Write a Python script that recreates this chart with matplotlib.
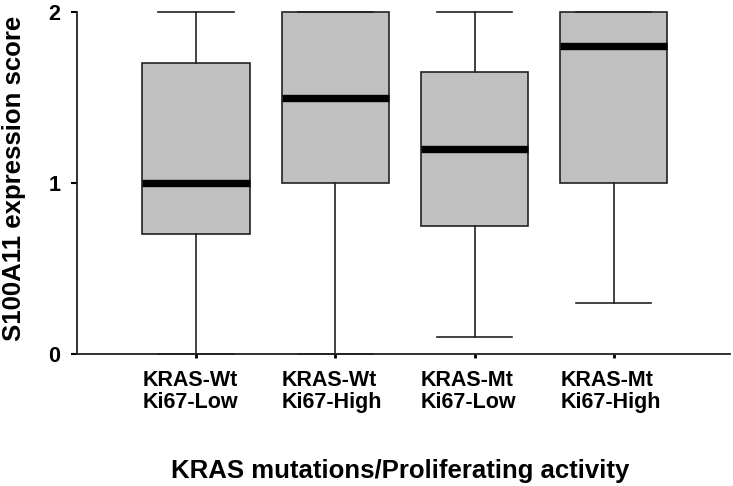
import matplotlib.pyplot as plt
from matplotlib.transforms import blended_transform_factory

# groups and box statistics
groups = ['KRAS-Wt\nKi67-Low', 'KRAS-Wt\nKi67-High', 'KRAS-Mt\nKi67-Low', 'KRAS-Mt\nKi67-High']
whislo = [0.0, 0.0, 0.1, 0.3]
q1 = [0.7, 1.0, 0.75, 1.0]
med = [1.0, 1.5, 1.2, 1.8]
q3 = [1.7, 2.0, 1.65, 2.0]
whishi = [2.0, 2.0, 2.0, 2.0]

plt.rcParams['font.family'] = ['Liberation Sans', 'DejaVu Sans']
plt.rcParams['font.weight'] = 'bold'

fig = plt.figure(figsize=(7.33, 4.86), dpi=100)
ax = fig.add_axes([0.105, 0.272, 0.891, 0.703])

stats = []
for i in range(len(groups)):
    stats.append({'whislo': whislo[i], 'q1': q1[i], 'med': med[i],
                  'q3': q3[i], 'whishi': whishi[i], 'fliers': []})

positions = list(range(1, len(groups) + 1))
box_w = 0.77
art = ax.bxp(stats, positions=positions, widths=box_w, patch_artist=True,
             showfliers=False,
             boxprops=dict(facecolor='#C0C0C0', edgecolor='#222222', linewidth=1.2),
             medianprops=dict(color='black', linewidth=5.3, solid_capstyle='butt'),
             whiskerprops=dict(color='#222222', linewidth=1.2),
             capprops=dict(color='#222222', linewidth=1.2),
             capwidths=0.54)
for key in art:
    for a in art[key]:
        a.set_clip_on(False)

ax.set_xlim(0.145, 4.835)
ax.set_ylim(0, 2)
ax.set_yticks([0, 1, 2])
ax.set_yticklabels(['0', '1', '2'], fontsize=15.5, fontweight='bold')
ax.set_xticks(positions)
ax.set_xticklabels([])
ax.tick_params(axis='y', length=4, width=1.5, pad=8)
ax.tick_params(axis='x', length=3, width=2)

for s in ['top', 'right']:
    ax.spines[s].set_visible(False)
for s in ['left', 'bottom']:
    ax.spines[s].set_linewidth(1.3)
    ax.spines[s].set_color('#222222')

fig.text(14 / 733, 1 - 178 / 486, 'S100A11 expression score', rotation=90,
         ha='center', va='center', fontsize=18.5, fontweight='bold')

# category labels are left-aligned with the left edge of each box
trans = blended_transform_factory(ax.transData, fig.transFigure)
for p, g in zip(positions, groups):
    ax.text(p - box_w / 2, 1 - 370 / 486, g, transform=trans, ha='left', va='top',
            fontsize=15.5, fontweight='bold', linespacing=1.05)

fig.text(400 / 733, 1 - 478 / 486, 'KRAS mutations/Proliferating activity',
         ha='center', va='baseline', fontsize=18.5, fontweight='bold')

fig.savefig('out.png', dpi=100)
